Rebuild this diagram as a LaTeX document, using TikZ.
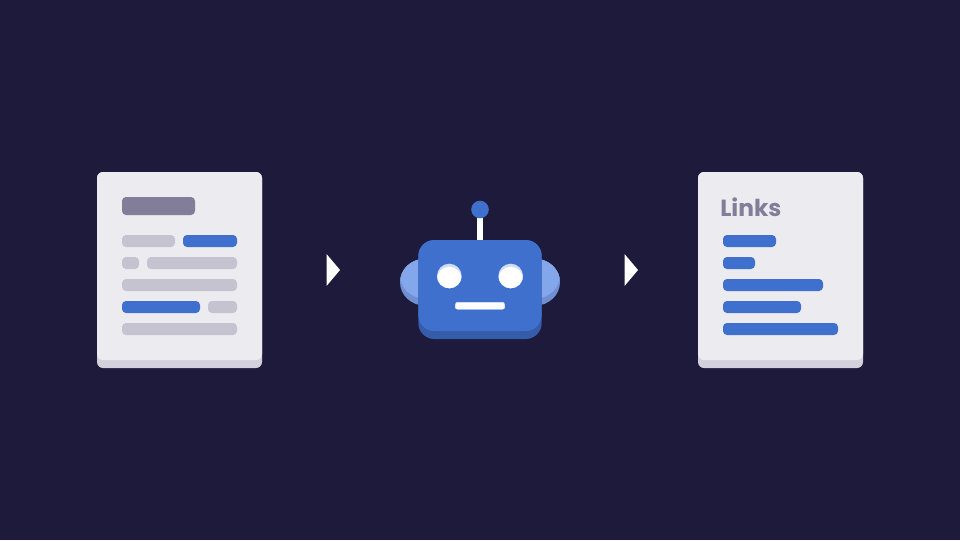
\documentclass[tikz,border=0pt]{standalone}
\usepackage{fontspec}
\setmainfont{Poppins}
\definecolor{bgc}{HTML}{1E1A3B}
\definecolor{paper}{HTML}{ECEBF0}
\definecolor{paperedge}{HTML}{D3D1DB}
\definecolor{titlebar}{HTML}{827D98}
\definecolor{greybar}{HTML}{C6C3D1}
\definecolor{bluebar}{HTML}{4070CE}
\definecolor{bluedark}{HTML}{355CA8}
\definecolor{earlight}{HTML}{84A6EB}
\definecolor{eardark}{HTML}{6F8FD2}
\definecolor{eyetop}{HTML}{CFDCF7}
\tikzset{
  x=0.75pt,y=-0.75pt,
  gbar/.style={fill=greybar,rounded corners=3pt},
  bbar/.style={fill=bluebar,rounded corners=3pt},
  tip/.style={fill=white},
}
\newcommand{\docsheet}[1]{%
  \fill[paperedge,rounded corners=4.5pt] (#1,172) rectangle ++(165,196);
  \fill[paper,rounded corners=4.5pt] (#1,172) rectangle ++(165,188);
}
\newcommand{\earshape}[1]{%
  \begin{scope}
    \fill[eardark] (#1,282.2) ellipse [x radius=25, y radius=23.4];
    \clip (#1,282.2) ellipse [x radius=25, y radius=23.4];
    \fill[earlight] (#1,275.2) ellipse [x radius=25, y radius=23.4];
    \fill[earlight] (#1-25,259) rectangle (#1+25,275.2);
  \end{scope}
}
\begin{document}
\begin{tikzpicture}
\useasboundingbox (0,0) rectangle (960,540);
\fill[bgc] (0,0) rectangle (960,540);
% left document
\docsheet{97}
\fill[titlebar,rounded corners=3pt] (122,197) rectangle (195,215);
\fill[gbar] (122,235) rectangle (175,247);
\fill[bbar] (183,235) rectangle (237,247);
\fill[gbar] (122,257) rectangle (139,269);
\fill[gbar] (147,257) rectangle (237,269);
\fill[gbar] (122,279) rectangle (237,291);
\fill[bbar] (122,301) rectangle (200,313);
\fill[gbar] (208,301) rectangle (237,313);
\fill[gbar] (122,323) rectangle (237,335);
% arrows
\fill[tip] (326.5,254) -- (340,270) -- (326.5,286) -- cycle;
\fill[tip] (624.5,254) -- (638,270) -- (624.5,286) -- cycle;
% robot ears
\earshape{425}
\earshape{535}
% antenna
\fill[white] (477.3,212) rectangle (482.7,242);
\fill[bluebar] (480,209.5) circle [radius=8.8];
% head
\fill[bluedark,rounded corners=12pt] (418.3,240) rectangle (541.7,339);
\fill[bluebar,rounded corners=12pt] (418.3,240) rectangle (541.7,331);
% eyes
\fill[eyetop] (449.3,276) circle [radius=12.3];
\fill[eyetop] (510.7,276) circle [radius=12.3];
\begin{scope}
  \clip (449.3,276) circle [radius=12.3];
  \fill[white] (449.3,279) circle [radius=12.3];
\end{scope}
\begin{scope}
  \clip (510.7,276) circle [radius=12.3];
  \fill[white] (510.7,279) circle [radius=12.3];
\end{scope}
% mouth
\fill[eyetop,rounded corners=1.5pt] (455.3,302) rectangle (504.7,309.3);
\fill[white,rounded corners=1.5pt] (455.3,303) rectangle (504.7,309.3);
% right document
\docsheet{698}
\node[anchor=base west,inner sep=0pt,text=titlebar,font=\bfseries\fontsize{17.5pt}{20pt}\selectfont] (linkstitle) at (720,216) {Links};
\fill[bbar] (723,235) rectangle (776,247);
\fill[bbar] (723,257) rectangle (755,269);
\fill[bbar] (723,279) rectangle (823,291);
\fill[bbar] (723,301) rectangle (801,313);
\fill[bbar] (723,323) rectangle (838,335);
\end{tikzpicture}
\end{document}
